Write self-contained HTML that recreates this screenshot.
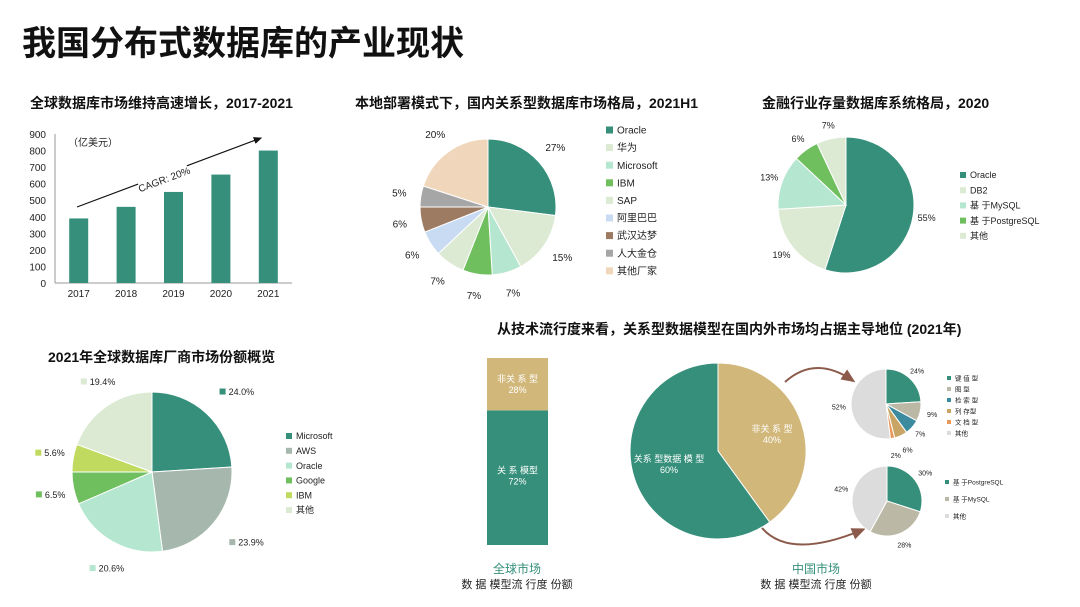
<!DOCTYPE html>
<html><head><meta charset="utf-8"><style>
html,body{margin:0;padding:0;background:#fff;}
svg{display:block;font-family:"Liberation Sans","Noto Sans CJK SC",sans-serif;}
</style></head><body>
<svg id="s" width="1080" height="607" viewBox="0 0 1080 607">
<text x="22" y="55" font-size="34" font-weight="bold" fill="#111">我国分布式数据库的产业现状</text>
<text x="30" y="108" font-size="14" font-weight="bold" fill="#111">全球数据库市场维持高速增长，2017-2021</text>
<text x="355" y="108" font-size="14" font-weight="bold" fill="#111">本地部署模式下，国内关系型数据库市场格局，2021H1</text>
<text x="762" y="108" font-size="14" font-weight="bold" fill="#111">金融行业存量数据库系统格局，2020</text>
<text x="48" y="362" font-size="14" font-weight="bold" fill="#111">2021年全球数据库厂商市场份额概览</text>
<text x="497" y="334" font-size="14" font-weight="bold" fill="#111">从技术流行度来看，关系型数据模型在国内外市场均占据主导地位 (2021年)</text>
<g id="g"></g>
</svg>
<script>
const barYears=["2017","2018","2019","2020","2021"];
const barValues=[390,460,550,655,800];
const barTicks=[0,100,200,300,400,500,600,700,800,900];
const p2Labels=["Oracle","华为","Microsoft","IBM","SAP","阿里巴巴","武汉达梦","人大金仓","其他厂家"];
const p2Values=[27,15,7,7,7,6,6,5,20];
const p3Labels=["Oracle","DB2","基 于MySQL","基 于PostgreSQL","其他"];
const p3Values=[55,19,13,6,7];
const p4Labels=["Microsoft","AWS","Oracle","Google","IBM","其他"];
const p4Values=[24.0,23.9,20.6,6.5,5.6,19.4];
const stackLabels=["关 系 模型","非关 系 型"];
const stackValues=[72,28];
const cnLabels=["非关 系 型","关系 型数据 模 型"];
const cnValues=[40,60];
const nrLabels=["键 值 型","图 型","检 索 型","列 存型","文 档 型","其他"];
const nrValues=[24,9,7,6,2,52];
const rLabels=["基 于PostgreSQL","基 于MySQL","其他"];
const rValues=[30,28,42];

const NS="http://www.w3.org/2000/svg";
const G=document.getElementById('g');
function el(t,a,txt){const e=document.createElementNS(NS,t);for(const k in a)e.setAttribute(k,a[k]);if(txt!==undefined)e.textContent=txt;G.appendChild(e);return e;}

// bar chart
const bx0=55,bx1=292,by0=283,by1=134;
const yS=v=>by0-(v/900)*(by0-by1);
const bw=(bx1-bx0)/barYears.length;
barTicks.forEach(t=>{const e=el('text',{x:46,y:yS(t)+4,'font-size':10,'text-anchor':'end',fill:'#222'},t);

});
let ax=el('line',{x1:bx0,y1:by1,x2:bx0,y2:by0,stroke:'#999'});


ax=el('line',{x1:bx0,y1:by0,x2:bx1,y2:by0,stroke:'#999'});


barValues.forEach((v,i)=>{const cx=bx0+bw*(i+0.5);
const r=el('rect',{x:cx-9.5,y:yS(v),width:19,height:by0-yS(v),fill:'#358F7A'});


const t=el('text',{x:cx,y:297,'font-size':10,'text-anchor':'middle',fill:'#222'},barYears[i]);

});
let u=el('text',{x:68,y:146,'font-size':10,fill:'#222'},'（亿美元）');


el('defs',{}).innerHTML='<marker id="ah" markerWidth="8" markerHeight="8" refX="6" refY="3" orient="auto"><path d="M0,0 L7,3 L0,6z" fill="#111"/></marker><marker id="bh" markerWidth="8" markerHeight="8" refX="5" refY="3" orient="auto"><path d="M0,0 L7,3 L0,6z" fill="#8B5A4A"/></marker>';
let ar=el('line',{x1:77,y1:207,x2:261,y2:138,stroke:'#111','stroke-width':1.2,'marker-end':'url(#ah)'});


el('rect',{x:138,y:172,width:52,height:14,fill:'#fff',transform:'rotate(-20.6 164 179)'});
u=el('text',{x:164,y:183,'font-size':10,'text-anchor':'middle',fill:'#222',transform:'rotate(-20.6 164 179)'},'CAGR: 20%');



function pie(name,cx,cy,r,vals,cols,start){
  const tot=vals.reduce((a,b)=>a+b,0);let a=start||0;const mids=[];
  vals.forEach((v,i)=>{const a2=a+v/tot*Math.PI*2;
    const p=(t)=>[cx+r*Math.sin(t),cy-r*Math.cos(t)];
    const [x1,y1]=p(a),[x2,y2]=p(a2);
    const s=el('path',{d:`M${cx},${cy}L${x1},${y1}A${r},${r} 0 ${a2-a>Math.PI?1:0} 1 ${x2},${y2}Z`,fill:cols[i],stroke:'#fff','stroke-width':1});
    
    
    mids.push((a+a2)/2);a=a2;});
  return mids;
}
function lbl(cx,cy,r,ang,text,fs,k){const x=cx+r*k*Math.sin(ang),y=cy-r*k*Math.cos(ang);
  const t=el('text',{x:x,y:y+fs*0.35,'font-size':fs,'text-anchor':'middle',fill:'#222'},text);
  
  return [x,y];}
function legend(name,x,y0,dy,labels,cols,fs,sq){labels.forEach((l,i)=>{
  const r=el('rect',{x:x,y:y0+i*dy-sq/2,width:sq,height:sq,fill:cols[i]});
  
  
  const t=el('text',{x:x+sq+4,y:y0+i*dy+fs*0.36,'font-size':fs,fill:'#222'},l);
  
  });}

// pie 2
const c2=['#358F7A','#DCEAD3','#B5E6CF','#6FBF5F','#DCEAD3','#C9DBF2','#9C7B62','#A6A6A6','#F0D7BC'];
let m=pie('domestic',488,207,68,p2Values,c2);
m.forEach((a,i)=>lbl(488,207,68,a,p2Values[i]+'%',10,1.32));
legend('domestic',606,130,17.6,p2Labels,c2,10,7);

// pie 3
const c3=['#358F7A','#DCEAD3','#B5E6CF','#6FBF5F','#DCEAD3'];
m=pie('finance',846,205,68,p3Values,c3);
m.forEach((a,i)=>lbl(846,205,68,a,p3Values[i]+'%',9,1.2));
legend('finance',960,175,15.2,p3Labels,c3,9,6);

// pie 4
const c4=['#358F7A','#A6B8AE','#B5E6CF','#6FBF5F','#BFDA5E','#DCEAD3'];
m=pie('vendor',152,472,80,p4Values,c4);
m.forEach((a,i)=>{const k=1.38,x=152+80*k*Math.sin(a),y=472-80*k*Math.cos(a);
  const r=el('rect',{x:x-8,y:y-3,width:6,height:6,fill:c4[i]});
  
  
  const t=el('text',{x:x+1,y:y+3.5,'font-size':9,fill:'#222'},p4Values[i].toFixed(1)+'%');
  
  });
legend('vendor',286,436,14.8,p4Labels,c4,9,6);

// stacked bar
const sTop=358,sBot=545,sx=487,sw=61;const tot=stackValues.reduce((a,b)=>a+b,0);
let yy=sBot;const sc=['#358F7A','#D1B77A'];
stackValues.forEach((v,i)=>{const h=v/tot*(sBot-sTop);yy-=h;
  const r=el('rect',{x:sx,y:yy,width:sw,height:h,fill:sc[i]});
  
  
  const cy=yy+(i==0?65:h/2);
  let t=el('text',{x:sx+sw/2,y:cy-2,'font-size':9,'text-anchor':'middle',fill:'#fff'},stackLabels[i]);
  
  
  t=el('text',{x:sx+sw/2,y:cy+9,'font-size':9,'text-anchor':'middle',fill:'#fff'},v+'%');
  
  });
u=el('text',{x:517,y:573,'font-size':12,'text-anchor':'middle',fill:'#358F7A'},'全球市场');


u=el('text',{x:517,y:588,'font-size':11,'text-anchor':'middle',fill:'#222'},'数 据 模型流 行度 份额');



// big pie
m=pie('china',718,451,88,cnValues,['#D1B77A','#358F7A']);
m.forEach((a,i)=>{const [x,y]=[718+88*0.55*Math.sin(a),451-88*0.55*Math.cos(a)];
  let t=el('text',{x:x+(i?-3:8),y:y-4,'font-size':9,'text-anchor':'middle',fill:'#fff'},cnLabels[i]);
  
  
  t=el('text',{x:x+(i?-3:8),y:y+7,'font-size':9,'text-anchor':'middle',fill:'#fff'},cnValues[i]+'%');
  
  });
u=el('text',{x:816,y:573,'font-size':12,'text-anchor':'middle',fill:'#358F7A'},'中国市场');


u=el('text',{x:816,y:588,'font-size':11,'text-anchor':'middle',fill:'#222'},'数 据 模型流 行度 份额');



// connector arcs
u=el('path',{d:'M785,382 Q815,355 852,380',fill:'none',stroke:'#8B5A4A','stroke-width':2,'marker-end':'url(#bh)'});


u=el('path',{d:'M762,528 Q790,560 862,530',fill:'none',stroke:'#8B5A4A','stroke-width':2,'marker-end':'url(#bh)'});



// small pies
const cnr=['#358F7A','#BBB9A5','#3C8A9E','#C8A565','#E99A5A','#DCDCDC'];
m=pie('nonrel',886,404,35,nrValues,cnr);
const nrk=[1.3,1.35,1.3,1.45,1.5,1.35];
m.forEach((a,i)=>lbl(886,404,35,a,nrValues[i]+'%',7,nrk[i]));
legend('nonrel',947,378,11,nrLabels,cnr,6.5,4);
const crl=['#358F7A','#BBB9A5','#DCDCDC'];
m=pie('rel',887,501,35,rValues,crl);
m.forEach((a,i)=>lbl(887,501,35,a,rValues[i]+'%',7,1.35));
legend('rel',945,482,17,rLabels,crl,6.5,4);
</script>
</body></html>
